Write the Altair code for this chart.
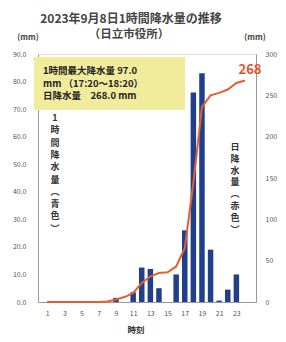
import altair as alt
import pandas as pd

hours = list(range(1, 25))
hourly_mm = [0, 0, 0, 0, 0, 0, 0, 0, 1.5, 0, 3.5, 12.5, 12, 5, 0, 10, 26, 76, 83, 19, 0.5, 4.5, 10, 0]
daily_cum_mm = [0, 0, 0, 0, 0, 0, 0, 0.5, 3, 6, 11, 23, 31, 35, 36, 43, 65, 144, 236, 250, 253, 257, 265, 268]
x_ticks = [1, 3, 5, 7, 9, 11, 13, 15, 17, 19, 21, 23]
left_ticks = [0, 10, 20, 30, 40, 50, 60, 70, 80, 90]
right_ticks = [0, 50, 100, 150, 200, 250, 300]

title1 = "2023年9月8日1時間降水量の推移"
title2 = "（日立市役所）"
box_lines = ["1時間最大降水量 97.0", "mm （17:20～18:20）", "日降水量　268.0 mm"]
left_vert = list("1時間降水量") + ["︵", "青", "色", "︶"]
right_vert = list("日降水量") + ["︵", "赤", "色", "︶"]

df = pd.DataFrame({"hour": hours, "hourly": hourly_mm, "cum": daily_cum_mm})

FONT = "Noto Sans CJK JP"
W, H = 218, 248

xscale = alt.Scale(domain=[0.52, 24.7], nice=False, zero=False)
def xaxis():
    return alt.Axis(values=x_ticks, ticks=False, labelFontSize=7, labelColor="#555",
                    domainColor="#999", title=None, labelPadding=7, labelFont=FONT,
                    grid=False, labelFlush=False, labelOverlap=False, labelSeparation=0)

bars = alt.Chart(df).mark_bar(size=5.5, color="#21408c").encode(
    x=alt.X("hour:Q", scale=xscale, axis=xaxis()),
    y=alt.Y("hourly:Q", scale=alt.Scale(domain=[0, 90], nice=False),
            axis=alt.Axis(orient="left", values=left_ticks, format=".1f", ticks=False,
                          labelFontSize=7, labelColor="#555", domainColor="#999",
                          grid=False, title=None, labelPadding=12, labelFont=FONT)),
)

line = alt.Chart(df).mark_line(color="#e2602f", strokeWidth=2).encode(
    x=alt.X("hour:Q", scale=xscale, axis=xaxis()),
    y=alt.Y("cum:Q", scale=alt.Scale(domain=[0, 300], nice=False),
            axis=alt.Axis(orient="right", values=right_ticks, format="d", ticks=False,
                          labelFontSize=7, labelColor="#555", domainColor="#999",
                          grid=False, title=None, labelPadding=9, labelFont=FONT)),
)

def txt(text, x, y, size=8, color="#333", weight="normal", align="center", baseline="middle", lh=None):
    kw = dict(fontSize=size, color=color, fontWeight=weight, align=align, baseline=baseline, font=FONT)
    if lh is not None:
        kw["lineHeight"] = lh
    return alt.Chart(df.head(1)).mark_text(**kw).encode(
        x=alt.value(x), y=alt.value(y), text=alt.value(text))

box = alt.Chart(df.head(1)).mark_rect(color="#f1ec9c").encode(
    x=alt.value(-4), x2=alt.value(147), y=alt.value(3), y2=alt.value(56))

layers = [
    box,
    bars,
    line,
    txt(title1, 93, -35.5, size=12, color="#444", weight="bold"),
    txt(title2, 91, -19, size=11.5, color="#444", weight="bold"),
    txt("(mm)", -10, -16, size=8, color="#444", weight="bold"),
    txt("(mm)", 217, -16, size=8, color="#444", weight="bold"),
    txt(box_lines, 5, 12, size=9.5, color="#222", weight="bold", align="left", baseline="top", lh=12.5),
    txt(left_vert, 17, 60, size=9, color="#333", weight="bold", baseline="top", lh=12.3),
    txt(right_vert, 197, 89, size=9, color="#333", weight="bold", baseline="top", lh=11.8),
    txt("268", 212, 16, size=13, color="#e8502a", weight="bold"),
    txt("時刻", 98, 276, size=8.5, color="#333", weight="bold"),
]

chart = alt.layer(*layers).resolve_scale(y="independent").properties(
    width=W, height=H,
    autosize=alt.AutoSizeParams(type="none"),
    padding={"left": 30, "top": 46, "right": 22, "bottom": 32},
).configure_view(stroke=None).configure(background="white")

chart.save("out.html", embed_options={"renderer": "svg", "actions": False})
